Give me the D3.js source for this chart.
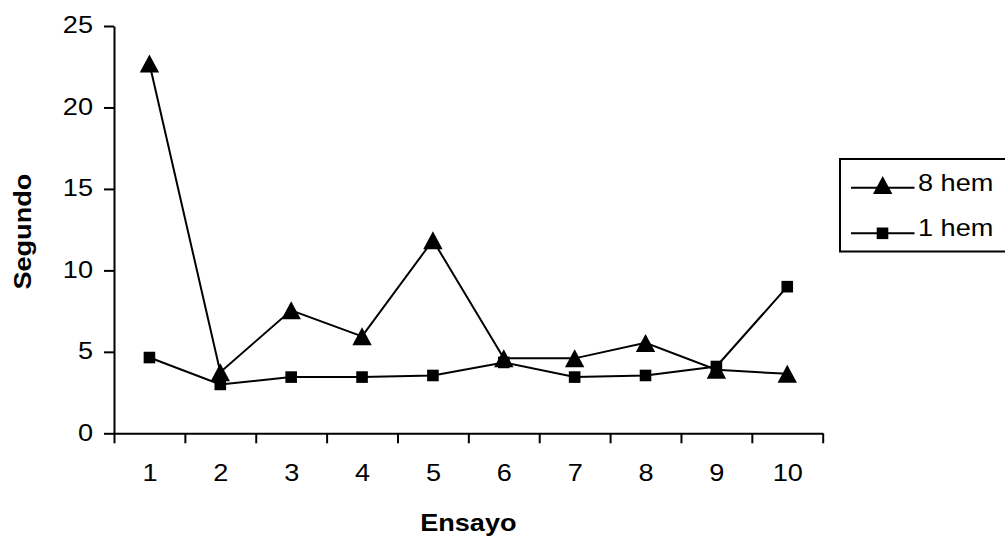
<!DOCTYPE html>
<html>
<head>
<meta charset="utf-8">
<script src="https://cdn.jsdelivr.net/npm/d3@7"></script>
<style>
  html, body { margin: 0; padding: 0; background: #fff; }
  svg { display: block; }
  text { font-family: "Liberation Sans", Arial, sans-serif; fill: #000; }
</style>
</head>
<body>
<svg id="chart" width="1005" height="542"></svg>
<script>
// Trial numbers (Ensayo) and times in seconds (Segundo)
const ensayos = [1, 2, 3, 4, 5, 6, 7, 8, 9, 10];
const hem8 = [22.7, 3.75, 7.55, 5.95, 11.85, 4.6, 4.6, 5.55, 3.9, 3.65];
const hem1 = [4.65, 3.0, 3.45, 3.45, 3.55, 4.35, 3.45, 3.55, 4.1, 9.0];
const yTicks = [0, 5, 10, 15, 20, 25];
const seriesNames = ["8 hem", "1 hem"];

const svg = d3.select("#chart");
const FONT = 24, SX = 1.13;   // text size and horizontal widening

const x = d3.scaleLinear().domain([0.5, 10.5]).range([114, 822.7]);
const y = d3.scaleLinear().domain([0, 25]).range([433.3, 26]);

// Y axis
const yAxis = svg.append("g")
  .attr("transform", `translate(${x(0.5)},0)`)
  .call(d3.axisLeft(y).tickValues(yTicks).tickSize(10).tickSizeOuter(0));
yAxis.select(".domain").attr("stroke", "#000").attr("stroke-width", 2);
yAxis.selectAll(".tick line").attr("stroke", "#000").attr("stroke-width", 2);
yAxis.selectAll(".tick text")
  .attr("x", null).attr("dy", "0.28em")
  .attr("transform", `translate(-21,0) scale(${SX},1)`)
  .style("font-size", FONT + "px")
  .style("font-family", "'Liberation Sans', Arial, sans-serif");

// X axis: tick marks at category boundaries, labels at category centres
const boundaries = d3.range(0.5, 11, 1);
const xAxis = svg.append("g")
  .attr("transform", `translate(0,${y(0)})`)
  .call(d3.axisBottom(x).tickValues(boundaries).tickSize(10).tickSizeOuter(0).tickFormat(""));
xAxis.select(".domain").attr("stroke", "#000").attr("stroke-width", 2);
xAxis.selectAll(".tick line").attr("stroke", "#000").attr("stroke-width", 2);

const xLabels = svg.append("g")
  .attr("transform", `translate(0,${y(0)})`)
  .call(d3.axisBottom(x).tickValues(ensayos).tickSize(0).tickFormat(d3.format("d")));
xLabels.select(".domain").remove();
xLabels.selectAll(".tick text")
  .attr("y", null).attr("dy", null)
  .attr("transform", `translate(0,47.5) scale(${SX},1)`)
  .style("font-size", FONT + "px")
  .style("font-family", "'Liberation Sans', Arial, sans-serif");

// Axis titles
svg.append("text")
  .attr("transform", `translate(${(x(0.5) + x(10.5)) / 2},530.5) scale(${SX},1)`)
  .attr("text-anchor", "middle")
  .style("font-size", FONT + "px").style("font-weight", "bold")
  .text("Ensayo");
svg.append("text")
  .attr("transform", `translate(31,${(y(0) + y(25)) / 2 + 2}) rotate(-90) scale(${SX},1)`)
  .attr("text-anchor", "middle")
  .style("font-size", FONT + "px").style("font-weight", "bold")
  .text("Segundo");

// Markers
const triangle = (g, cx, cy) => g.append("path")
  .attr("d", `M${cx},${cy - 9}L${cx + 9.7},${cy + 9}L${cx - 9.7},${cy + 9}Z`)
  .attr("fill", "#000");
const square = (g, cx, cy) => g.append("rect")
  .attr("x", cx - 5.8).attr("y", cy - 5.8).attr("width", 11.6).attr("height", 11.6)
  .attr("fill", "#000");

const line = d3.line().x((d, i) => x(ensayos[i])).y(d => y(d));

const s8 = svg.append("g");
s8.append("path").attr("d", line(hem8)).attr("fill", "none")
  .attr("stroke", "#000").attr("stroke-width", 2);
hem8.forEach((v, i) => triangle(s8, x(ensayos[i]), y(v)));

const s1 = svg.append("g");
s1.append("path").attr("d", line(hem1)).attr("fill", "none")
  .attr("stroke", "#000").attr("stroke-width", 2);
hem1.forEach((v, i) => square(s1, x(ensayos[i]), y(v)));

// Legend
const lg = svg.append("g");
lg.append("rect").attr("x", 840).attr("y", 159).attr("width", 180).attr("height", 92.5)
  .attr("fill", "#fff").attr("stroke", "#000").attr("stroke-width", 2);
const rows = [187.7, 233.3];
seriesNames.forEach((name, i) => {
  const ry = rows[i];
  lg.append("line").attr("x1", 851).attr("x2", 914.5).attr("y1", ry).attr("y2", ry)
    .attr("stroke", "#000").attr("stroke-width", 2);
  if (i === 0) triangle(lg, 882.7, ry - 2.6); else square(lg, 882.5, ry);
  lg.append("text")
    .attr("transform", `translate(918,${ry + 3}) scale(${SX},1)`)
    .style("font-size", FONT + "px")
    .text(name);
});
</script>
</body>
</html>
